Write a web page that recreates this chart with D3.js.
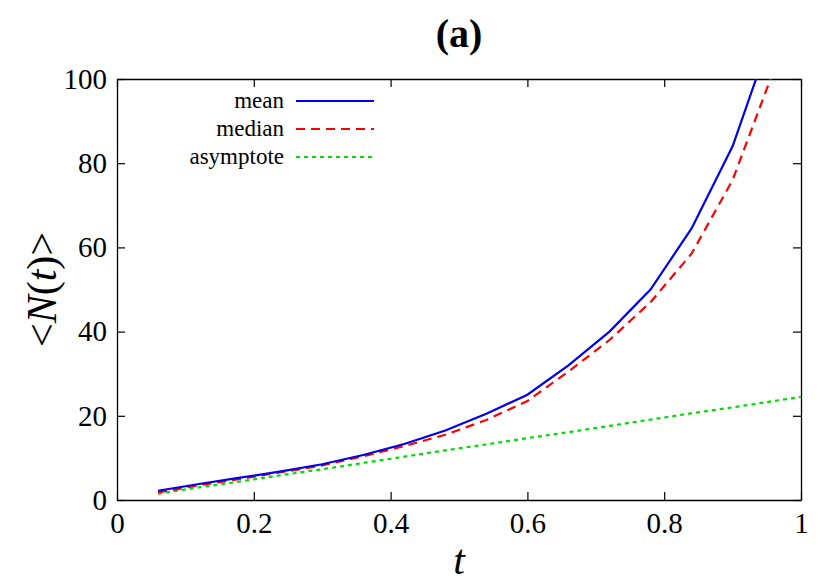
<!DOCTYPE html>
<html><head><meta charset="utf-8">
<script src="https://cdn.jsdelivr.net/npm/d3@7"></script>
<style>body{margin:0;background:#fff}text{font-family:"Liberation Serif",serif}</style>
</head><body><div id="chart"></div>
<script>
const tVals = [0.06,0.12,0.18,0.24,0.30,0.36,0.42,0.48,0.54,0.60,0.66,0.72,0.78,0.84,0.90,0.96,1.0];
const meanVals = [2.2,3.8,5.3,6.8,8.5,10.7,13.3,16.5,20.5,25,32,40,50,64.5,84,112,125];
const medianVals = [1.8,3.5,5.0,6.6,8.2,10.4,12.8,15.5,19,23.5,30.5,38,47,58.5,76,102,120];
const asymVals = [1.5,3.0,4.4,5.9,7.3,8.8,10.3,11.8,13.2,14.7,16.1,17.6,19.1,20.6,22.0,23.5,24.5];
const xTicks = [0,0.2,0.4,0.6,0.8,1];
const yTicks = [0,20,40,60,80,100];

const W = 830, H = 581, m = {l:117, r:29, t:79, b:81};
const svg = d3.select("#chart").append("svg").attr("width", W).attr("height", H);
const x = d3.scaleLinear().domain([0,1]).range([m.l, W - m.r]);
const y = d3.scaleLinear().domain([0,100]).range([H - m.b, m.t]);

svg.append("defs").append("clipPath").attr("id","clip")
  .append("rect").attr("x", m.l).attr("y", m.t).attr("width", W-m.l-m.r).attr("height", H-m.t-m.b);

svg.append("g").attr("transform", `translate(0,${H-m.b})`)
  .call(d3.axisBottom(x).tickValues(xTicks).tickSizeInner(-8).tickSizeOuter(0).tickPadding(12).tickFormat(d3.format("")));
svg.append("g").attr("transform", `translate(0,${m.t})`)
  .call(d3.axisTop(x).tickValues(xTicks).tickSizeInner(-8).tickSizeOuter(0).tickFormat(""));
svg.append("g").attr("transform", `translate(${m.l},0)`)
  .call(d3.axisLeft(y).tickValues(yTicks).tickSizeInner(-8).tickSizeOuter(0).tickPadding(10));
svg.append("g").attr("transform", `translate(${W-m.r},0)`)
  .call(d3.axisRight(y).tickValues(yTicks).tickSizeInner(-8).tickSizeOuter(0).tickFormat(""));
svg.selectAll(".domain").attr("stroke","#000").attr("stroke-width",1.3);
svg.selectAll(".tick line").attr("stroke","#000").attr("stroke-width",1.2);
svg.selectAll(".tick text").style("font-family","Liberation Serif").style("font-size","29px").attr("fill","#000");

const series = [
  {name:"mean", vals:meanVals, color:"#0000ee", dash:null},
  {name:"median", vals:medianVals, color:"#ff0000", dash:"9,6"},
  {name:"asymptote", vals:asymVals, color:"#00dd00", dash:"4,4"}
];
const line = d3.line().x((d,i)=>x(tVals[i])).y(d=>y(d));
const g = svg.append("g").attr("clip-path","url(#clip)");
series.slice().reverse().forEach(s => {
  g.append("path").attr("d", line(s.vals)).attr("fill","none")
    .attr("stroke", s.color).attr("stroke-width",2.2).attr("stroke-dasharray", s.dash);
});

series.forEach((s,i) => {
  const ly = 101 + i*28;
  svg.append("text").attr("x",284).attr("y",ly+7).attr("text-anchor","end")
    .style("font-size","23px").text(s.name);
  svg.append("line").attr("x1",296).attr("x2",374).attr("y1",ly).attr("y2",ly)
    .attr("stroke",s.color).attr("stroke-width",2.2).attr("stroke-dasharray",s.dash);
});

svg.append("text").attr("x",(m.l+W-m.r)/2).attr("y",47).attr("text-anchor","middle")
  .style("font-size","40px").attr("font-weight","bold").text("(a)");
svg.append("text").attr("x",(m.l+W-m.r)/2).attr("y",574).attr("text-anchor","middle")
  .style("font-size","42px").attr("font-style","italic").text("t");
const yl = svg.append("text").attr("transform",`translate(56,${(m.t+H-m.b)/2}) rotate(-90)`)
  .attr("text-anchor","middle").style("font-size","42px");
yl.append("tspan").text("<");
yl.append("tspan").attr("font-style","italic").text("N");
yl.append("tspan").text("(");
yl.append("tspan").attr("font-style","italic").text("t");
yl.append("tspan").text(")>");
</script></body></html>
